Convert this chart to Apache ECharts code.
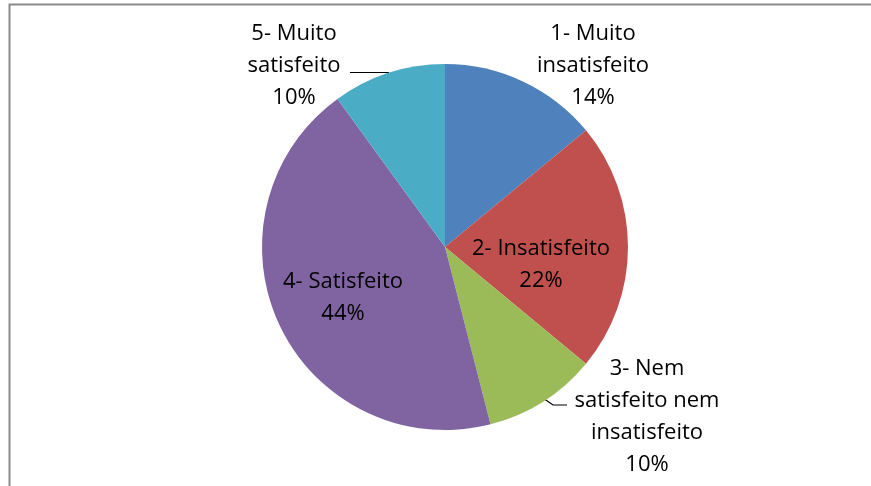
<!DOCTYPE html>
<html>
<head>
<meta charset="utf-8">
<script src="https://cdn.jsdelivr.net/npm/echarts@6/dist/echarts.min.js"></script>
<style>
html,body{margin:0;padding:0;background:#fff;}
#c{width:871px;height:486px;}
</style>
</head>
<body>
<div id="c"></div>
<script>
var categories = ['1- Muito\ninsatisfeito', '2- Insatisfeito', '3- Nem\nsatisfeito nem\ninsatisfeito', '4- Satisfeito', '5- Muito\nsatisfeito'];
var values = [14, 22, 10, 44, 10];
var colors = ['#4F81BD', '#C0504D', '#9BBB59', '#8064A2', '#4BACC6'];
var showLine = [false, false, true, false, true];

// label placement (layout only)
var labelPos = [
  {x: 593, y: 66},
  {x: 541, y: 265},
  {x: 647, y: 417},
  {x: 343, y: 298},
  {x: 294, y: 66}
];
var linePts = {
  2: [[543, 398], [553, 405], [567, 405]],
  4: [[389, 72.5], [370, 72.5], [350, 72.5]]
};

var data = categories.map(function (n, i) {
  return {
    name: n,
    value: values[i],
    itemStyle: {color: colors[i]},
    labelLine: {show: showLine[i]}
  };
});

var chart = echarts.init(document.getElementById('c'), null, {renderer: 'canvas'});
chart.setOption({
  animation: false,
  backgroundColor: '#ffffff',
  graphic: [{
    type: 'polyline',
    shape: {points: [[9.5, 490], [9.5, 4.5], [880, 4.5]]},
    style: {stroke: '#8a8a8a', lineWidth: 2, fill: null},
    silent: true
  }],
  series: [{
    type: 'pie',
    center: [445, 247],
    radius: [0, 183],
    startAngle: 90,
    clockwise: true,
    data: data,
    itemStyle: {borderWidth: 0},
    label: {
      show: true,
      position: 'outside',
      color: '#000',
      fontFamily: 'Open Sans',
      fontSize: 22,
      lineHeight: 32,
      align: 'center',
      formatter: function (p) { return p.name + '\n' + Math.round(p.percent) + '%'; }
    },
    labelLine: {
      lineStyle: {color: '#000', width: 1.2},
      length: 10, length2: 10, smooth: false
    },
    labelLayout: function (p) {
      var i = p.dataIndex;
      var o = {x: labelPos[i].x, y: labelPos[i].y, align: 'center', verticalAlign: 'middle'};
      if (linePts[i]) o.labelLinePoints = linePts[i];
      return o;
    }
  }]
});
</script>
</body>
</html>
